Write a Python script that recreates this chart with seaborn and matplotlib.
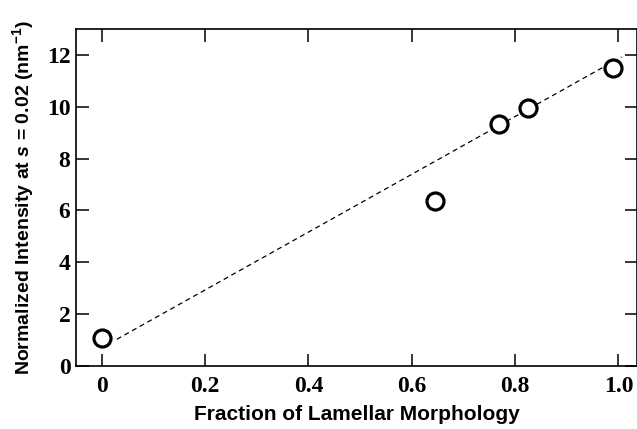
import matplotlib
matplotlib.use("Agg")
import matplotlib.pyplot as plt
import seaborn as sns
import pandas as pd

# Data
fraction = [0.0, 0.645, 0.769, 0.825, 0.99]
intensity = [1.08, 6.38, 9.35, 9.95, 11.5]
fit_x = [0.029, 1.006]
fit_y = [1.03, 11.92]
x_ticks = [0, 0.2, 0.4, 0.6, 0.8, 1.0]
x_ticklabels = ["0", "0.2", "0.4", "0.6", "0.8", "1.0"]
y_ticks = [0, 2, 4, 6, 8, 10, 12]
y_ticklabels = ["0", "2", "4", "6", "8", "10", "12"]

sns.set_style("ticks")
plt.rcParams["font.family"] = ["Liberation Sans", "DejaVu Sans"]
plt.rcParams["text.color"] = "black"
plt.rcParams["axes.labelcolor"] = "black"
plt.rcParams["mathtext.fontset"] = "custom"
plt.rcParams["mathtext.rm"] = "Liberation Sans:bold"
plt.rcParams["mathtext.bf"] = "Liberation Sans:bold"
plt.rcParams["mathtext.it"] = "Liberation Sans:bold:italic"

fig = plt.figure(figsize=(6.37, 4.29), dpi=100)
ax = fig.add_axes([76 / 637, 1 - 366 / 429, (637 - 76) / 637, (366 - 29) / 429])

df = pd.DataFrame({"x": fraction, "y": intensity})
fit = pd.DataFrame({"x": fit_x, "y": fit_y})

sns.lineplot(data=fit, x="x", y="y", ax=ax, color="black", lw=0.9,
             linestyle=(0, (4, 3)), zorder=2)
sns.scatterplot(data=df, x="x", y="y", ax=ax, marker="o", s=150,
                facecolor="white", edgecolor="black", linewidth=2.3, zorder=3)

ax.set_xlim(-0.05, 1.036)
ax.set_ylim(0, 13)
ax.set_xticks(x_ticks)
ax.set_xticklabels(x_ticklabels)
ax.set_yticks(y_ticks)
ax.set_yticklabels(y_ticklabels)

for lab in ax.get_xticklabels() + ax.get_yticklabels():
    lab.set_family(["Liberation Serif", "DejaVu Serif"])
    lab.set_fontweight("bold")
    lab.set_fontsize(17)
    lab.set_color("black")

ax.tick_params(direction="in", length=9, width=1.1, top=True, right=True,
               colors="black", pad=7)
ax.tick_params(axis="y", pad=4)
for sp in ax.spines.values():
    sp.set_linewidth(1.2)
    sp.set_color("black")

ax.set_xlabel("Fraction of Lamellar Morphology", fontsize=15, fontweight="bold",
              labelpad=6, color="black")
ax.set_ylabel(r"Normalized Intensity at $\mathit{s}$ = 0.02 (nm$^{-1}$)", fontsize=14,
              fontweight="bold", labelpad=8, color="black")

fig.savefig("out.png", dpi=100)
